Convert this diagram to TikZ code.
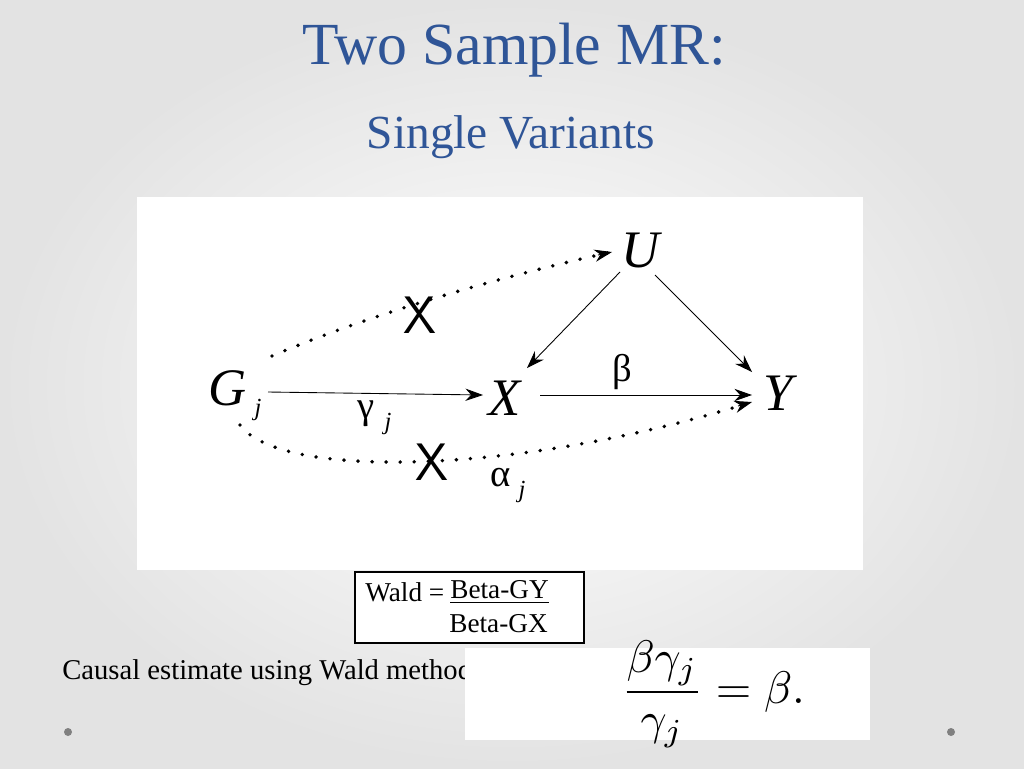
\documentclass[tikz,border=0pt]{standalone}
\usepackage{fontspec}
\setmainfont{Liberation Serif}
\usepackage{amsmath}
\usetikzlibrary{arrows.meta}
\definecolor{ttl}{HTML}{2F5597}
\begin{document}
\begin{tikzpicture}[x=0.02cm,y=-0.02cm,
  var/.style={font=\fontsize{30}{30}\selectfont\itshape,inner sep=0pt},
  arr/.style={-{Stealth[length=10pt,width=7pt]},line width=0.5pt},
  dots/.style={line width=2.2pt,dash pattern=on 0pt off 8pt,line cap=round},
  lbl/.style={font=\fontsize{22}{22}\selectfont,inner sep=0pt},
  sub/.style={font=\fontsize{14}{14}\selectfont\itshape},
  cross/.style={font=\fontsize{30}{30}\sffamily\selectfont,inner sep=0pt},
  txt/.style={font=\fontsize{15.5}{16}\selectfont,inner sep=0pt}]
\useasboundingbox (0,0) rectangle (1024,768);
\shade[inner color=white,outer color=gray!22] (0,0) rectangle (1024,768);
\node[font=\fontsize{34}{34}\selectfont,text=ttl] (t) at (514,50) {Two Sample MR:};
\node[font=\fontsize{27}{27}\selectfont,text=ttl] (s) at (511,137) {Single Variants};
\fill[white] (137,197) rectangle (863,570);
\node[var] (U) at (641,250) {U};
\node[var] (G) at (228,388) {G};
\node[sub] (Gj) at (258,410) {j};
\node[var] (X) at (505,398) {X};
\node[var] (Y) at (778,393) {Y};
\draw[arr] (620,272) -- (527,368);
\draw[arr] (655,275) -- (752,372);
\draw[arr] (268,392) -- (483,395);
\draw[arr] (540,395) -- (752,395);
\node[lbl] (b) at (622,372) {β};
\node[lbl] (g) at (366,414) {γ};
\node[sub] (gj) at (388,424) {j};
\node[lbl] (a) at (501,478) {α};
\node[sub] (aj) at (522,492) {j};
\coordinate (d1) at (272,356);
\coordinate (d2) at (612,252);
\draw[dots] (d1) .. controls (380,310) and (520,272) .. (d2);
\draw[-{Stealth[length=10pt,width=7pt]},line width=0.5pt] (598,255) -- (d2);
\coordinate (e1) at (240,425);
\coordinate (e2) at (752,402);
\draw[dots] (e1) .. controls (280,480) and (520,475) .. (e2);
\draw[-{Stealth[length=10pt,width=7pt]},line width=0.5pt] (738,406) -- (e2);
\node[cross] (x1) at (420,315) {X};
\node[cross] (x2) at (432,462) {X};
\draw[line width=0.6pt,fill=white] (355,572) rectangle (584,643);
\node[txt,anchor=west] (w) at (365,592) {Wald =};
\node[txt,anchor=west] (gy) at (450,592) {\underline{Beta-GY}};
\node[txt,anchor=west] (gx) at (449,624) {Beta-GX};
\node[txt,font=\fontsize{16.3}{17}\selectfont,anchor=west] (c) at (62,673) {Causal estimate using Wald method:};
\fill[white] (465,648) rectangle (870,740);
\node (f) at (713,694) {\scalebox{2.6}{$\dfrac{\beta\gamma_{j}}{\gamma_{j}}=\beta.$}};
\fill[gray] (68,732) circle (4);
\fill[gray] (951,732) circle (4);
\end{tikzpicture}
\end{document}
